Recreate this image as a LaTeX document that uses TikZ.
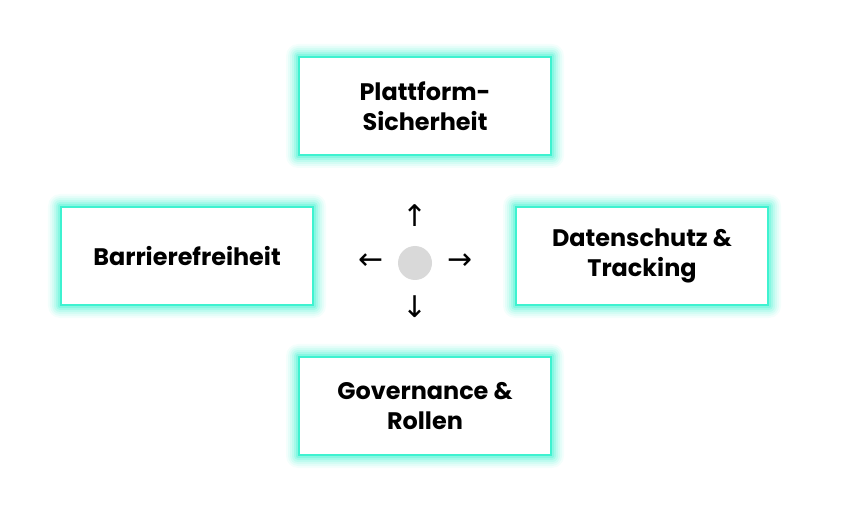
\documentclass[tikz,border=0pt]{standalone}
\usepackage{fontspec}
\setmainfont{Poppins}[BoldFont={* Bold}]
\newfontfamily\arrowfont{DejaVu Sans}
\definecolor{glow}{HTML}{3EF2D0}
\tikzset{
  box/.style={draw=glow, line width=2bp, fill=white, minimum width=252bp, minimum height=98bp, align=center, font=\bfseries\fontsize{24}{30}\selectfont, text=black},
  arr/.style={font=\arrowfont\fontsize{30}{30}\selectfont, text=black}
}
\newcommand{\glowbox}[3]{%
  \foreach \g/\o in {12/0.06,10/0.08,8/0.1,6/0.14,4/0.2,2/0.3}{
    \fill[glow, opacity=\o, rounded corners=\g bp] ($(#1)+(-127bp-\g bp,-50bp-\g bp)$) rectangle ($(#1)+(127bp+\g bp,50bp+\g bp)$);
  }
  \node[box] (#2) at (#1) {#3};
}
\usetikzlibrary{calc}
\begin{document}
\begin{tikzpicture}[x=1bp,y=-1bp]
\useasboundingbox (0,0) rectangle (852,514);
\coordinate (pt) at (425,106);
\coordinate (pl) at (187,256);
\coordinate (pr) at (642,256);
\coordinate (pb) at (425,406);
\glowbox{pt}{top}{Plattform-\\Sicherheit}
\glowbox{pl}{left}{Barrierefreiheit}
\glowbox{pr}{right}{Datenschutz \&\\Tracking}
\glowbox{pb}{bot}{Governance \&\\Rollen}
\fill[black!15] (415,263) circle (17) coordinate (c);
\node[arr] (au) at (415,216) {↑};
\node[arr] (ad) at (415,307) {↓};
\node[arr] (al) at (371,262) {←};
\node[arr] (ar) at (460,262) {→};
\end{tikzpicture}
\end{document}
